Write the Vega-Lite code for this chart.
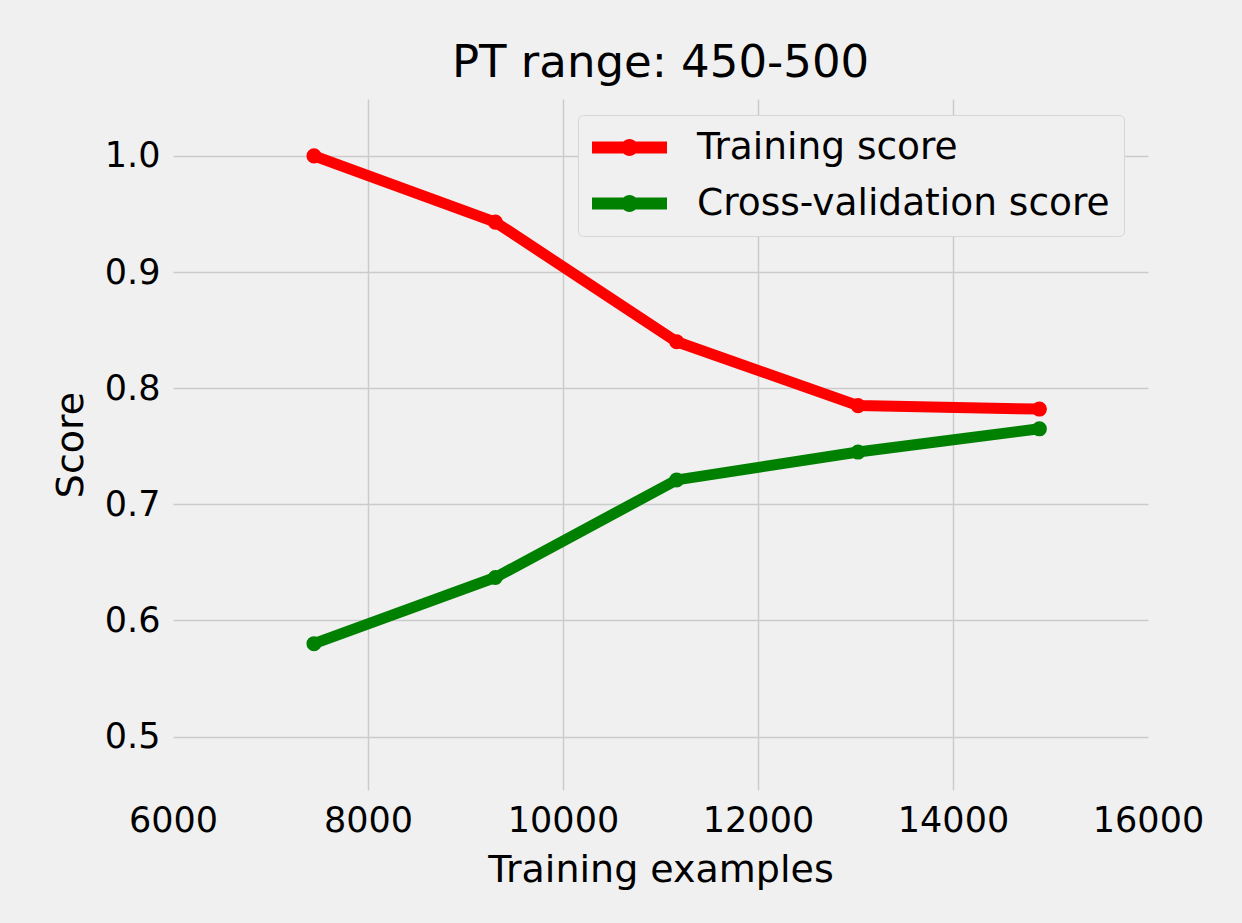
{
  "$schema": "https://vega.github.io/schema/vega-lite/v6.json",
  "width": 975,
  "height": 691,
  "autosize": {"type": "none"},
  "padding": {"left": 173, "top": 99, "right": 94, "bottom": 133},
  "background": "#f0f0f0",
  "title": {"text": "PT range: 450-500", "fontSize": 45, "font": "DejaVu Sans", "fontWeight": "normal", "color": "#000000", "anchor": "middle", "baseline": "alphabetic", "offset": -23},
  "config": {"view": {"stroke": null, "fill": "#f0f0f0"}, "font": "DejaVu Sans"},
  "data": {"values": [
    {"n": 7446, "score": 1.0, "series": "Training score"},
    {"n": 9306, "score": 0.943, "series": "Training score"},
    {"n": 11166, "score": 0.840, "series": "Training score"},
    {"n": 13026, "score": 0.785, "series": "Training score"},
    {"n": 14886, "score": 0.782, "series": "Training score"},
    {"n": 7446, "score": 0.580, "series": "Cross-validation score"},
    {"n": 9306, "score": 0.637, "series": "Cross-validation score"},
    {"n": 11166, "score": 0.721, "series": "Cross-validation score"},
    {"n": 13026, "score": 0.745, "series": "Cross-validation score"},
    {"n": 14886, "score": 0.765, "series": "Cross-validation score"}
  ]},
  "encoding": {
    "x": {"field": "n", "type": "quantitative",
      "scale": {"domain": [6000, 16000], "nice": false, "zero": false},
      "axis": {"title": "Training examples", "values": [6000, 8000, 10000, 12000, 14000, 16000], "format": "d",
        "domain": false, "ticks": false, "labelFontSize": 35, "labelColor": "#000000", "labelPadding": 13,
        "labelFlush": false, "labelOverlap": false,
        "titleFontSize": 38, "titleFontWeight": "normal", "titleColor": "#000000", "titlePadding": 13,
        "gridColor": "#cbcbcb", "gridWidth": 1.5,
        "gridOpacity": {"condition": {"test": "datum.value == 6000 || datum.value == 16000", "value": 0}, "value": 1}}},
    "y": {"field": "score", "type": "quantitative",
      "scale": {"domain": [0.454, 1.049], "nice": false, "zero": false},
      "axis": {"title": "Score", "values": [0.5, 0.6, 0.7, 0.8, 0.9, 1.0], "format": ".1f",
        "domain": false, "ticks": false, "labelFontSize": 35, "labelColor": "#000000", "labelPadding": 13,
        "labelOverlap": false,
        "titleFontSize": 38, "titleFontWeight": "normal", "titleColor": "#000000", "titlePadding": 14,
        "gridColor": "#cbcbcb", "gridWidth": 1.5}},
    "color": {"field": "series", "type": "nominal",
      "scale": {"domain": ["Training score", "Cross-validation score"], "range": ["#ff0000", "#008000"]},
      "legend": {"title": null, "orient": "none", "legendX": 405, "legendY": 16, "direction": "vertical",
        "symbolType": "M-1,-0.16L1,-0.16L1,0.16L-1,0.16Z M-0.227,0A0.227,0.227 0 1,1 0.227,0A0.227,0.227 0 1,1 -0.227,0Z",
        "symbolSize": 5625, "symbolStrokeWidth": 0, "labelFontSize": 37.5, "labelColor": "#000000", "labelOffset": 30,
        "labelLimit": 0, "padding": 14, "rowPadding": 18, "fillColor": "#f0f0f0", "strokeColor": "#d6d6d6",
        "cornerRadius": 5, "clipHeight": 37,
        "encode": {"symbols": {"update": {"fill": {"signal": "datum.value === 'Training score' ? '#ff0000' : '#008000'"}, "opacity": {"value": 1}}}}}}
  },
  "layer": [
    {"mark": {"type": "line", "strokeWidth": 11}},
    {"mark": {"type": "point", "filled": true, "size": 227, "opacity": 1}}
  ]
}
